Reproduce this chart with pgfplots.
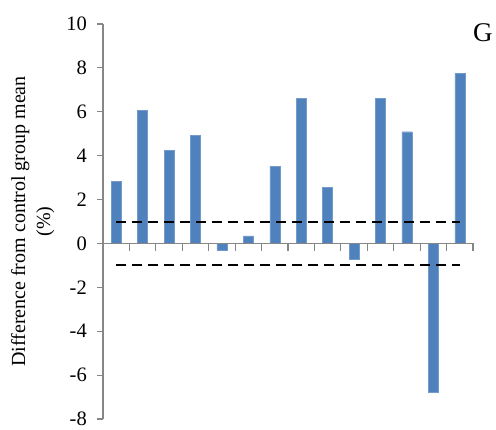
\documentclass[border=0pt]{standalone}
\usepackage{pgfplots}
\pgfplotsset{compat=1.18}
\usepackage{fontspec}
\setmainfont{Liberation Serif}
\definecolor{barblue}{HTML}{4F81BD}
\definecolor{axgray}{HTML}{868686}
\begin{document}
\fontsize{20bp}{24bp}\selectfont
\begin{tikzpicture}
\begin{axis}[
  scale only axis,
  width=370bp, height=395bp,
  xmin=0.5, xmax=14.5,
  ymin=-8, ymax=10,
  ytick={-8,-6,...,10},
  axis x line=none,
  axis y line=left,
  y axis line style={-, draw=axgray, line width=1.2bp},
  ytick style={draw=axgray, line width=1.2bp},
  tick align=outside,
  major tick length=6bp,
  /pgf/number format/assume math mode=true,
  yticklabel style={font=\fontsize{20.5bp}{24bp}\selectfont, inner sep=0bp, xshift=-10bp},
  ylabel={Difference from control group mean\\(\%)},
  ylabel style={at={(axis description cs:-0.19,0.5)}, anchor=center, align=center, font=\fontsize{20bp}{25bp}\selectfont},
  clip=false,
]
\addplot[ybar, bar width=10bp, fill=barblue, draw=barblue!80!white] coordinates {
  (1,2.83) (2,6.08) (3,4.25) (4,4.92) (5,-0.31) (6,0.35) (7,3.52)
  (8,6.61) (9,2.55) (10,-0.72) (11,6.61) (12,5.09) (13,-6.79) (14,7.75)
};
\addplot[black, line width=2bp, dash pattern=on 10bp off 6bp] coordinates {(1,0.96) (14,0.96)};
\addplot[black, line width=2bp, dash pattern=on 10bp off 6bp] coordinates {(1,-0.96) (14,-0.96)};
\draw[axgray, line width=1.2bp] (axis cs:0.5,0) -- (axis cs:14.5,0);
\pgfplotsinvokeforeach{1.5,2.5,3.5,4.5,5.5,6.5,7.5,8.5,9.5,10.5,11.5,12.5,13.5,14.5}{
  \draw[axgray, line width=1.2bp] (axis cs:#1,0) -- ([yshift=-8bp]axis cs:#1,0);
}
\node[font=\fontsize{27bp}{30bp}\selectfont, inner sep=0pt] at (axis description cs:1.027,0.977) {G};
\end{axis}
\pgfresetboundingbox
\useasboundingbox (-103bp,-11bp) rectangle (393bp,419bp);
\end{tikzpicture}
\end{document}
